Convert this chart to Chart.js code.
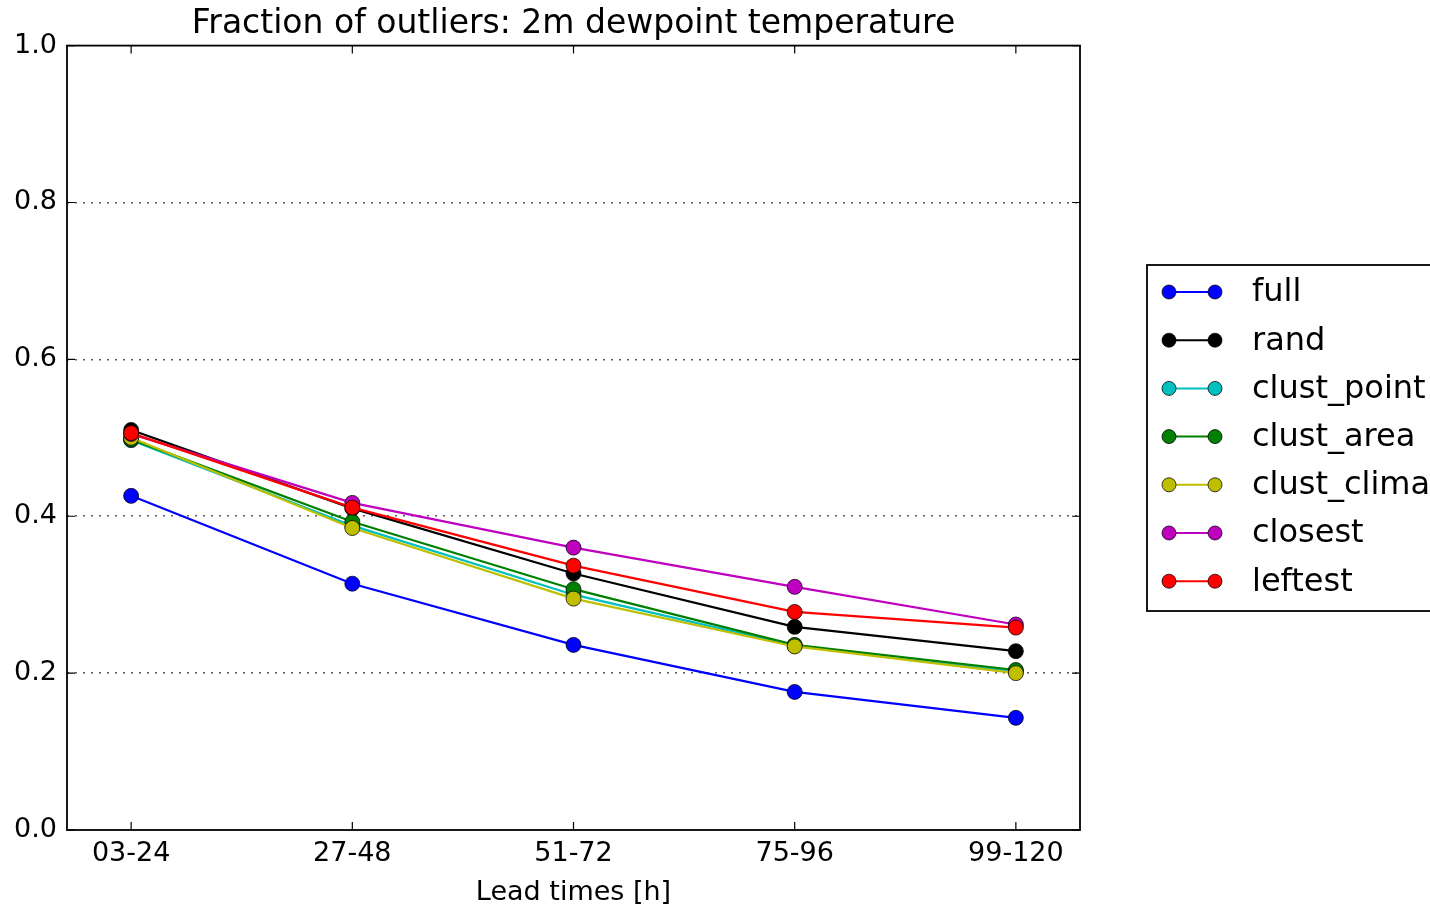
<!DOCTYPE html>
<html>
<head>
<meta charset="utf-8">
<script src="https://cdn.jsdelivr.net/npm/chart.js@4"></script>
<style>
  html, body { margin: 0; padding: 0; background: #fff; overflow: hidden; }
  #container { width: 1430px; height: 909px; }
</style>
</head>
<body>
<div id="container"><canvas id="chart"></canvas></div>
<script>
// lead time bins
const leadTimes = ["03-24", "27-48", "51-72", "75-96", "99-120"];

// fraction of outliers per method
const full       = [0.426, 0.314, 0.236, 0.176, 0.143];
const rand       = [0.510, 0.410, 0.327, 0.259, 0.228];
const clustPoint = [0.497, 0.388, 0.300, 0.235, 0.202];
const clustArea  = [0.498, 0.393, 0.307, 0.236, 0.204];
const clustClima = [0.500, 0.385, 0.295, 0.234, 0.200];
const closest    = [0.505, 0.417, 0.360, 0.310, 0.262];
const leftest    = [0.506, 0.411, 0.337, 0.278, 0.258];

const yTicks = [0, 0.2, 0.4, 0.6, 0.8, 1.0];

const series = [
	{ label: "full",        data: full,       color: "#0000ff" },
	{ label: "rand",        data: rand,       color: "#000000" },
	{ label: "clust_point", data: clustPoint, color: "#00bfbf" },
	{ label: "clust_area",  data: clustArea,  color: "#008000" },
	{ label: "clust_clima", data: clustClima, color: "#bfbf00" },
	{ label: "closest",     data: closest,    color: "#bf00bf" },
	{ label: "leftest",     data: leftest,    color: "#ff0000" }
];

const FONT = "'DejaVu Sans', sans-serif";

// frame, inward ticks and the legend box, drawn matplotlib style
const framePlugin = {
	id: "frame",
	afterDraw(chart) {
		const ctx = chart.ctx;
		const area = chart.chartArea;
		const xs = chart.scales.x, ys = chart.scales.y;
		ctx.save();
		ctx.strokeStyle = "#000";
		ctx.lineWidth = 1.8;
		ctx.strokeRect(area.left, area.top, area.right - area.left, area.bottom - area.top);

		ctx.lineWidth = 1.2;
		const tl = 8;
		ctx.beginPath();
		leadTimes.forEach((_, i) => {
			const px = xs.getPixelForValue(i);
			ctx.moveTo(px, area.bottom); ctx.lineTo(px, area.bottom - tl);
			ctx.moveTo(px, area.top); ctx.lineTo(px, area.top + tl);
		});
		yTicks.forEach(v => {
			const py = ys.getPixelForValue(v);
			ctx.moveTo(area.left, py); ctx.lineTo(area.left + tl, py);
			ctx.moveTo(area.right, py); ctx.lineTo(area.right - tl, py);
		});
		ctx.stroke();

		// legend
		const bx = 1147, by = 265, rowH = 48.2;
		ctx.lineWidth = 1.8;
		ctx.strokeRect(bx, by, 400, 346);
		ctx.font = "32px " + FONT;
		ctx.textBaseline = "middle";
		ctx.fillStyle = "#000";
		chart.data.datasets.forEach((ds, i) => {
			const cy = by + 27 + i * rowH;
			ctx.strokeStyle = ds.borderColor;
			ctx.lineWidth = 2;
			ctx.beginPath();
			ctx.moveTo(1169, cy); ctx.lineTo(1215, cy);
			ctx.stroke();
			[1169, 1215].forEach(mx => {
				ctx.beginPath();
				ctx.arc(mx, cy, 7, 0, Math.PI * 2);
				ctx.fillStyle = ds.pointBackgroundColor;
				ctx.fill();
				ctx.strokeStyle = "rgba(0,0,0,0.75)";
				ctx.lineWidth = 1;
				ctx.stroke();
			});
			ctx.fillStyle = "#000";
			ctx.fillText(ds.label, 1252, cy + 1);
		});
		ctx.restore();
	}
};

new Chart(document.getElementById("chart"), {
	type: "line",
	data: {
		datasets: series.map((s, i) => ({
			label: s.label,
			data: s.data.map((v, k) => ({ x: k, y: v })),
			borderColor: s.color,
			backgroundColor: s.color,
			pointBackgroundColor: s.color,
			pointBorderColor: "rgba(0,0,0,0.75)",
			pointBorderWidth: 1,
			pointRadius: 7.5,
			borderWidth: 2.2,
			fill: false,
			tension: 0,
			order: series.length - i
		}))
	},
	options: {
		responsive: true,
		maintainAspectRatio: false,
		animation: false,
		layout: { padding: { right: 350 } },
		plugins: {
			legend: { display: false },
			tooltip: { enabled: false },
			title: {
				display: true,
				fullSize: false,
				text: "Fraction of outliers: 2m dewpoint temperature",
				color: "#000",
				font: { family: FONT, size: 33, weight: "normal" },
				padding: { top: 5, bottom: 1 }
			}
		},
		scales: {
			x: {
				type: "linear",
				min: -0.29,
				max: 4.29,
				afterBuildTicks: s => { s.ticks = leadTimes.map((_, i) => ({ value: i })); },
				afterFit: s => { s.height = 79; },
				ticks: {
					callback: v => leadTimes[v],
					color: "#000",
					font: { family: FONT, size: 27 },
					padding: 8,
					maxRotation: 0,
					autoSkip: false
				},
				grid: { display: false, drawTicks: false },
				border: { display: false },
				title: {
					display: true,
					text: "Lead times [h]",
					color: "#000",
					font: { family: FONT, size: 27 },
					padding: { top: 0, bottom: 0 }
				}
			},
			y: {
				min: 0,
				max: 1,
				afterBuildTicks: s => { s.ticks = yTicks.map(v => ({ value: v })); },
				afterFit: s => { s.width = 67; },
				ticks: {
					callback: v => v.toFixed(1),
					color: "#000",
					font: { family: FONT, size: 27 },
					padding: 10
				},
				grid: {
					drawTicks: false,
					lineWidth: 1.5,
					color: c => (c.tick && (c.tick.value === 0 || c.tick.value === 1)) ? "rgba(0,0,0,0)" : "rgba(0,0,0,0.65)"
				},
				border: { display: false, dash: [2, 6] }
			}
		}
	},
	plugins: [framePlugin]
});
</script>
</body>
</html>
